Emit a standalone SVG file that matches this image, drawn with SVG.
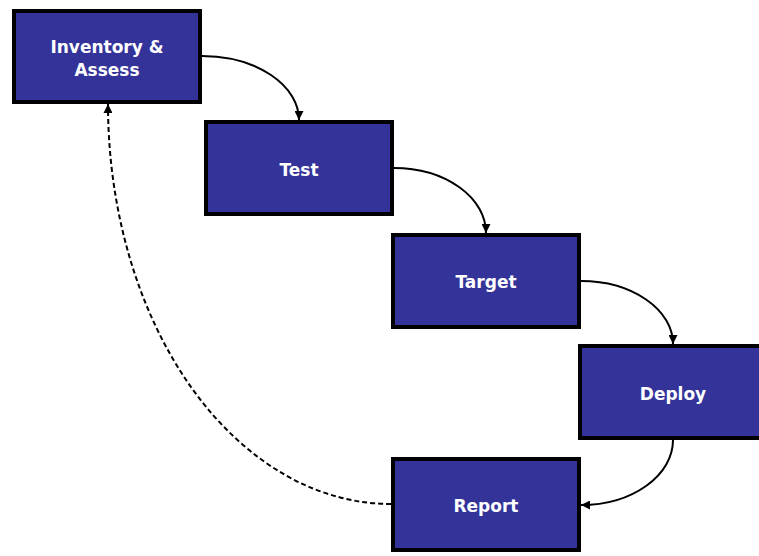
<svg xmlns="http://www.w3.org/2000/svg" width="759" height="556" viewBox="0 0 759 556">
<defs>
<style>
.box{fill:#333399;stroke:#000;stroke-width:4}
.lbl{font-family:"DejaVu Sans",Verdana,sans-serif;font-weight:bold;font-size:17px;fill:#fff;text-anchor:middle}
.con{fill:none;stroke:#000;stroke-width:2}
.dash{stroke-dasharray:5,3}
</style>
<marker id="ah" viewBox="0 0 10 10" refX="10" refY="5" markerWidth="9" markerHeight="9" markerUnits="userSpaceOnUse" orient="auto">
<path d="M0,0 L10,5 L0,10 z" fill="#000"/>
</marker>
</defs>
<rect width="759" height="556" fill="#fff"/>
<g id="connectors">
<path class="con" d="M202,56 A97,64 0 0 1 299,120" marker-end="url(#ah)"/>
<path class="con" d="M394,168 A92,65 0 0 1 486,233" marker-end="url(#ah)"/>
<path class="con" d="M581,281 A92,63 0 0 1 673,344" marker-end="url(#ah)"/>
<path class="con" d="M673,440 A92,65 0 0 1 581,505" marker-end="url(#ah)"/>
<path class="con dash" d="M391,504 A283,400 0 0 1 108,104" marker-end="url(#ah)"/>
</g>
<g id="inventory">
<rect class="box" x="14" y="11" width="186" height="91"/>
<text class="lbl" x="107" y="53">Inventory &amp;</text>
<text class="lbl" x="107" y="76">Assess</text>
</g>
<g id="test">
<rect class="box" x="206" y="122" width="186" height="92"/>
<text class="lbl" x="299" y="176">Test</text>
</g>
<g id="target">
<rect class="box" x="393" y="235" width="186" height="92"/>
<text class="lbl" x="486" y="288">Target</text>
</g>
<g id="deploy">
<rect class="box" x="580" y="346" width="186" height="92"/>
<text class="lbl" x="673" y="400">Deploy</text>
</g>
<g id="report">
<rect class="box" x="393" y="459" width="186" height="91"/>
<text class="lbl" x="486" y="512">Report</text>
</g>
</svg>
